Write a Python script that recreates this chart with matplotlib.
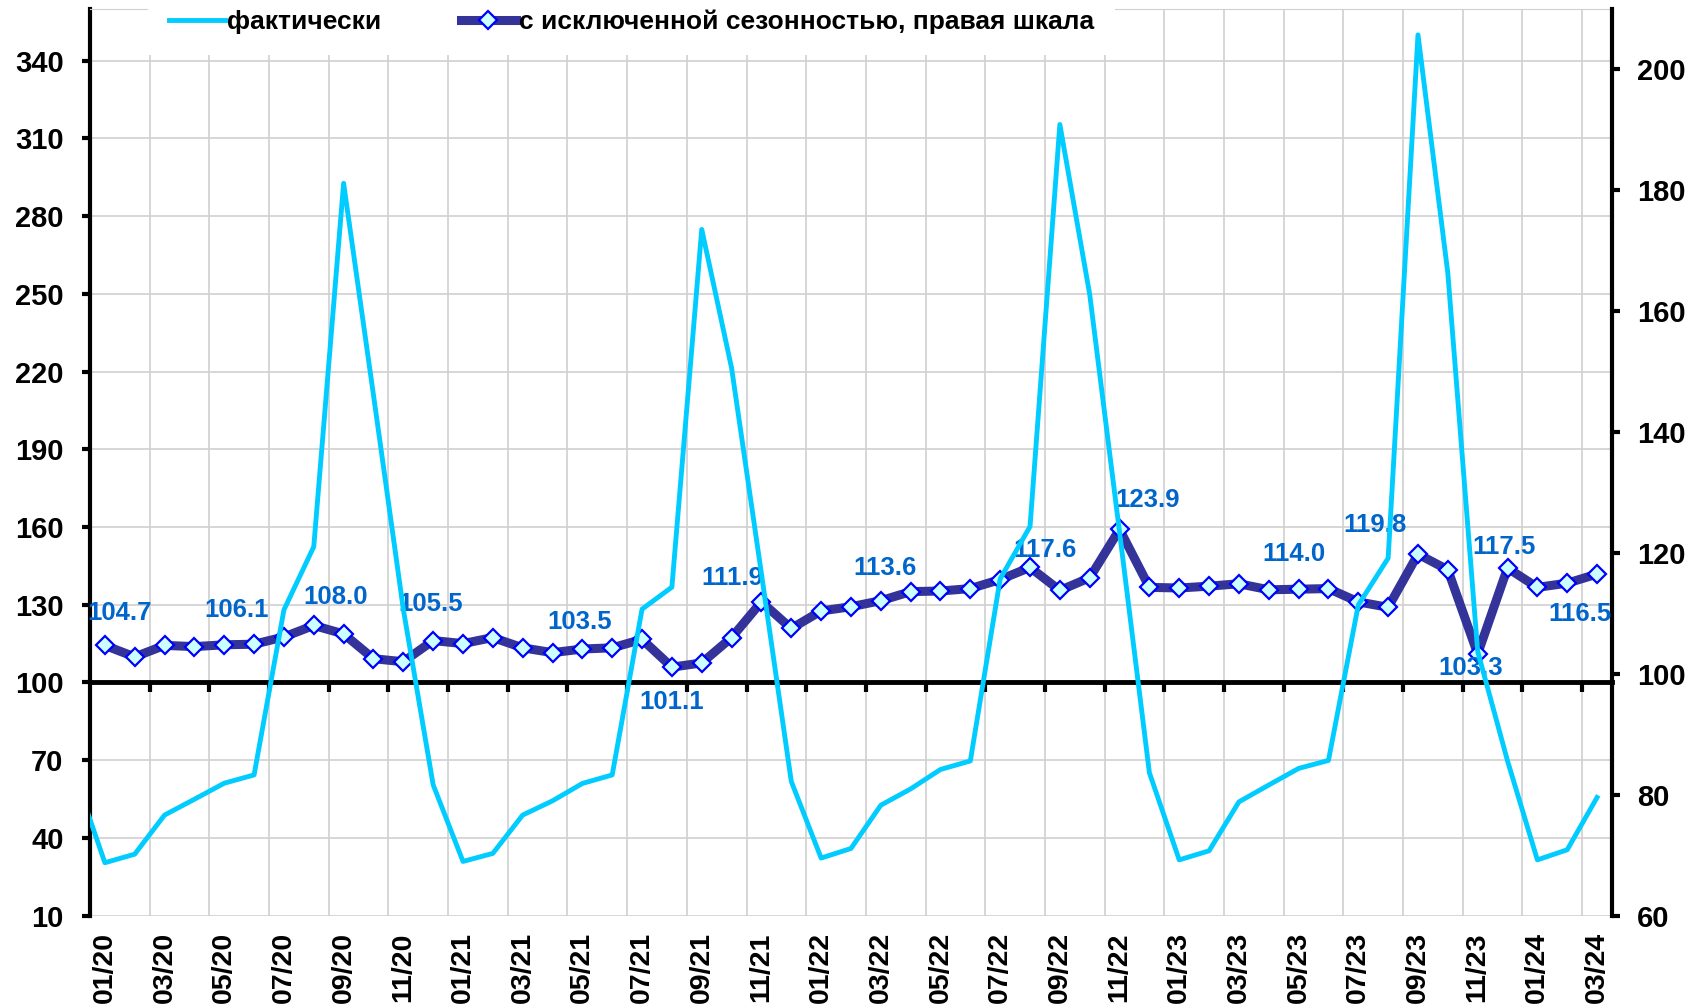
import matplotlib
matplotlib.use('Agg')

import matplotlib.pyplot as plt
from matplotlib import font_manager
import numpy as np

plt.rcParams['font.family'] = ['Liberation Sans', 'DejaVu Sans']
plt.rcParams['font.weight'] = 'bold'

# months on the axis
months = ['01/20', '02/20', '03/20', '04/20', '05/20', '06/20', '07/20', '08/20', '09/20', '10/20', '11/20', '12/20',
          '01/21', '02/21', '03/21', '04/21', '05/21', '06/21', '07/21', '08/21', '09/21', '10/21', '11/21', '12/21',
          '01/22', '02/22', '03/22', '04/22', '05/22', '06/22', '07/22', '08/22', '09/22', '10/22', '11/22', '12/22',
          '01/23', '02/23', '03/23', '04/23', '05/23', '06/23', '07/23', '08/23', '09/23', '10/23', '11/23', '12/23',
          '01/24', '02/24', '03/24']

# fact, left scale (12/19 value is only seen as the line entering from the left edge)
actual_dec19 = 64.0
actual = [30.4, 33.7, 48.8, 54.9, 61.1, 64.3, 128.0, 152.4, 292.7, 211.0, 128.3, 60.5,
          30.9, 34.0, 48.8, 54.3, 61.0, 64.3, 128.3, 136.8, 274.9, 221.4, 142.0, 61.8,
          32.2, 35.9, 52.6, 58.9, 66.4, 69.7, 140.0, 160.2, 315.4, 249.8, 158.0, 65.1,
          31.5, 35.0, 53.9, 60.4, 66.8, 69.9, 129.9, 148.0, 350.0, 258.0, 112.0, 69.7,
          31.5, 35.4, 55.6]

# seasonally adjusted, right scale
seas_adj = [104.7, 102.8, 104.7, 104.5, 104.8, 104.9, 106.1, 108.0, 106.6, 102.5, 102.0, 105.5,
            105.0, 106.0, 104.3, 103.5, 104.1, 104.3, 105.7, 101.1, 101.8, 106.0, 111.9, 107.5,
            110.4, 111.1, 112.1, 113.6, 113.7, 114.1, 115.6, 117.6, 113.8, 115.9, 123.9, 114.3,
            114.2, 114.5, 114.9, 113.9, 114.0, 114.1, 111.9, 111.0, 119.8, 117.2, 103.3, 117.5,
            114.3, 115.0, 116.5]

# which points get a value label, and where the label sits (pixels from the point)
label_offsets = {'01/20': (15, 32), '07/20': (-47, 27), '08/20': (22, 28), '12/20': (-2, 37),
                 '04/21': (27, 31), '08/21': (0, -35), '11/21': (-29, 24), '04/22': (-26, 24),
                 '08/22': (15, 17), '11/22': (28, 29), '05/23': (-5, 35), '09/23': (-43, 29),
                 '11/23': (-7, -14), '12/23': (-3, 21), '03/24': (-17, -40)}

names = {f.name for f in font_manager.fontManager.ttflist}
if 'Liberation Sans Narrow' in names:
    lab_font, lab_size = 'Liberation Sans Narrow', 21
else:
    lab_font, lab_size = 'Liberation Sans', 18.5

x = np.arange(len(months))
x_act = np.concatenate([[-1], x])
y_act = [actual_dec19] + actual

fig = plt.figure(figsize=(16.97, 10.08), dpi=100)
ax = fig.add_axes([0.053, 0.0917, 0.8969, 0.8994])
ax2 = ax.twinx()

grid_c = '#D0D0D0'

# seasonally adjusted on right scale
l2, = ax2.plot(x, seas_adj, color='#333399', lw=6.5, marker='D', ms=9.5,
               mfc='#CCFFFF', mec='#0000FF', mew=1.6, zorder=2)
# actual on left scale, drawn on top
l1, = ax2.plot(x_act, y_act, color='#00CCFF', lw=3.5, transform=ax.transData, zorder=4)

for m, (dx, dy) in label_offsets.items():
    i = months.index(m)
    ax2.annotate('%.1f' % seas_adj[i], xy=(i, seas_adj[i]), xytext=(dx, dy),
                 textcoords='offset pixels', ha='center', va='center',
                 color='#0066CC', fontsize=lab_size, fontweight='bold',
                 family=[lab_font, 'Liberation Sans'], zorder=3)

ax.set_xlim(-0.5, len(months) - 0.5)
ax.set_ylim(10, 360)
ax2.set_ylim(60, 210)

ax.set_yticks(np.arange(10, 341, 30))
ax2.set_yticks(np.arange(60, 201, 20))
ax.set_xticks(np.arange(1.5, len(months) - 1, 2))
ax.tick_params(axis='x', direction='out', length=7, width=3, labelbottom=False)
ax.tick_params(axis='y', direction='out', length=6, width=3, labelsize=21, pad=13)
ax2.tick_params(axis='y', direction='out', length=6, width=3, labelsize=21, pad=12)

ax.grid(True, color=grid_c, lw=1.2)
ax.set_axisbelow(True)

ax.spines['bottom'].set_position(('data', 100))
ax.spines['bottom'].set_linewidth(3.5)
ax.spines['left'].set_linewidth(3)
ax.spines['top'].set_color(grid_c)
ax.spines['right'].set_visible(False)
for s in ['left', 'bottom', 'top']:
    ax2.spines[s].set_visible(False)
ax2.spines['right'].set_linewidth(3)

secax = ax.secondary_xaxis('bottom')
secax.set_xticks(x[::2], months[::2], rotation=90)
secax.tick_params(length=0, pad=12, labelsize=20.5)
secax.spines['bottom'].set_visible(False)

leg = ax2.legend([l1, l2], ['фактически', 'с исключенной сезонностью, правая шкала'],
                 loc='center left', bbox_to_anchor=(148 / 1697, 1 - 21.6 / 1008),
                 bbox_transform=fig.transFigure, ncol=2, fontsize=19, numpoints=1,
                 handlelength=2.1, handletextpad=0.1, columnspacing=3.0,
                 borderpad=0.8, borderaxespad=0, frameon=True, fancybox=False,
                 facecolor='white', edgecolor='none', framealpha=1)
leg.set_zorder(10)

fig.savefig('out.png', dpi=100)
